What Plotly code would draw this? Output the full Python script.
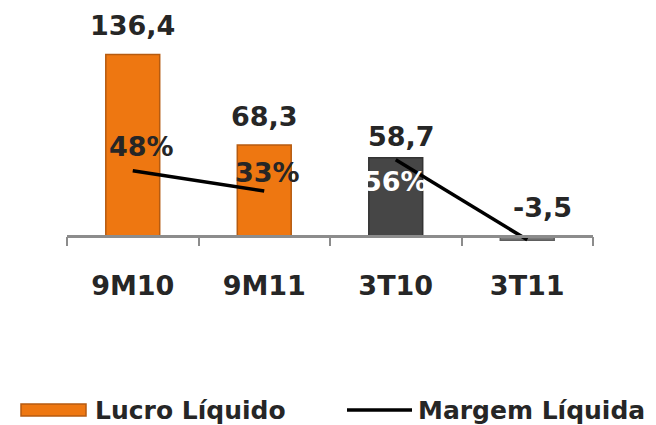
import plotly.graph_objects as go

categories = ["9M10", "9M11", "3T10", "3T11"]
lucro = [136.4, 68.3, 58.7, -3.5]
lucro_labels = ["136,4", "68,3", "58,7", "-3,5"]
margem = [48, 33, 56, -3]
margem_labels = ["48%", "33%", "56%", ""]
series_names = ["Lucro Líquido", "Margem Líquida"]
bar_colors = ["#EE7711", "#EE7711", "#464646", "#7A7A7A"]
bar_lines = ["#B65B10", "#B65B10", "#333333", "#5E5E5E"]

FONT = "DejaVu Sans"
TXT = "#262626"
FS = 27
OFF = 8  # page body margin
W, H = 656 - OFF, 425 - OFF
ML, MR, MT, MB = 59, 63, 2, 176
PW, PH = W - ML - MR, H - MT - MB


def px(x):
    return (x - OFF - ML) / PW


def py(y):
    return (H - MB - (y - OFF)) / PH


fig = go.Figure()
fig.add_trace(go.Bar(
    x=categories, y=lucro, name=series_names[0],
    marker=dict(color=bar_colors, line=dict(color=bar_lines, width=1.5)),
    width=0.41, showlegend=False,
))
fig.add_trace(go.Scatter(
    x=categories[:2], y=margem[:2], mode="lines", name=series_names[1],
    line=dict(color="black", width=3.5), yaxis="y2", showlegend=False,
))
fig.add_trace(go.Scatter(
    x=categories[2:], y=margem[2:], mode="lines", name=series_names[1],
    line=dict(color="black", width=3.5), yaxis="y2", showlegend=False,
))

ann = []
bar_shifts = [(0, 29), (0, 29), (6, 21), (15, 28)]
for c, v, t, (xs, ys) in zip(categories, lucro, lucro_labels, bar_shifts):
    ann.append(dict(x=c, y=max(v, 0), yref="y", text="<b>%s</b>" % t, showarrow=False,
                    yanchor="middle", xshift=xs, yshift=ys,
                    font=dict(family=FONT, size=FS, color=TXT)))
pct_shifts = [(9, 24, TXT), (3, 19, TXT), (0, -22, "white"), (0, 0, TXT)]
for c, v, t, (xs, ys, col) in zip(categories, margem, margem_labels, pct_shifts):
    if not t:
        continue
    ann.append(dict(x=c, y=v, yref="y2", text="<b>%s</b>" % t, showarrow=False,
                    yanchor="middle", xshift=xs, yshift=ys,
                    font=dict(family=FONT, size=FS, color=col)))

# legend (drawn manually to match the wide swatches of the original)
LY = 410
LFS = 25
ann.append(dict(x=px(93), y=py(LY), xref="paper", yref="paper", xanchor="left", yanchor="middle",
                text="<b>%s</b>" % series_names[0], showarrow=False,
                font=dict(family=FONT, size=LFS, color=TXT)))
ann.append(dict(x=px(416), y=py(LY), xref="paper", yref="paper", xanchor="left", yanchor="middle",
                text="<b>%s</b>" % series_names[1], showarrow=False,
                font=dict(family=FONT, size=LFS, color=TXT)))
shapes = [
    dict(type="rect", xref="paper", yref="paper", x0=px(21), x1=px(86), y0=py(LY + 6), y1=py(LY - 6),
         fillcolor="#EE7711", line=dict(color="#B65B10", width=1.5)),
    dict(type="line", xref="paper", yref="paper", x0=px(347), x1=px(412), y0=py(LY), y1=py(LY),
         line=dict(color="black", width=3.5)),
]

fig.update_layout(
    width=W, height=H,
    margin=dict(l=ML, r=MR, t=MT, b=MB),
    paper_bgcolor="white", plot_bgcolor="white",
    font=dict(family=FONT, color=TXT),
    showlegend=False,
    xaxis=dict(
        anchor="free", position=10 / 180,
        showline=True, linecolor="#8C8C8C", linewidth=2.5,
        ticks="outside", tickson="boundaries", ticklen=9, tickcolor="#8C8C8C", tickwidth=2,
        tickfont=dict(family=FONT, size=FS, color=TXT),
        tickvals=categories, ticktext=["<b>%s</b>" % c for c in categories],
        ticklabelstandoff=25,
        showgrid=False,
    ),
    yaxis=dict(range=[-10, 170], visible=False, showgrid=False, zeroline=False),
    yaxis2=dict(range=[-9.8, 166.6], overlaying="y", visible=False, showgrid=False, zeroline=False),
    annotations=ann,
    shapes=shapes,
)
fig.write_html("out.html")
